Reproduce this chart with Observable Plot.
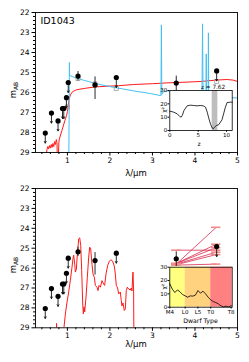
<!DOCTYPE html>
<html><head><meta charset="utf-8">
<script src="https://cdn.jsdelivr.net/npm/d3@7"></script>
<script src="https://cdn.jsdelivr.net/npm/@observablehq/plot@0.6"></script>
<style>
body{margin:0;background:#fff;}
#wrap{position:relative;width:249px;height:362px;font-family:"DejaVu Sans",sans-serif;}
#wrap svg{position:absolute;overflow:visible;}
</style></head><body><div id="wrap"></div>
<script>
// ---------- photometry ----------
const photLam   = [0.48, 0.625, 0.78, 0.885, 0.915, 0.977, 1.02, 1.25, 1.65, 2.15, 3.56, 4.51];
const photMag   = [28.03, 27.03, 27.42, 26.8, 26.8, 26.26, 25.5, 25.18, 25.62, 25.25, 25.53, 24.92];
const photUpper = [1, 1, 1, 1, 1, 1, 1, 0, 0, 1, 0, 1];
const photErrBright = [null, null, null, null, null, null, null, 24.95, 25.22, null, 25.18, null];
const photErrFaint  = [null, null, null, null, null, null, null, 25.42, 26.35, null, 25.92, null];
// model photometry (grey squares, top panel)
const modelLam = [1.0, 1.25, 1.65, 2.15, 3.56, 4.51];
const modelMag = [26.72, 25.3, 25.57, 25.8, 26.0, 25.45];

// ---------- top panel SEDs ----------
const topRedLam = [0.50,0.52,0.54,0.56,0.58,0.60,0.62,0.64,0.66,0.68,0.70,0.72,0.74,0.755,0.765,0.78,0.80,0.81,0.87,0.94,0.98,1.0,1.04,1.07,1.12,1.22,1.42,1.66,1.9,2.2,2.56,3.0,3.34,3.7,4.12,4.5,4.75,4.9,5.0];
const topRedMag = [29.2,28.85,28.7,28.82,28.65,28.78,28.6,28.75,28.55,28.7,28.45,28.6,28.35,28.5,29.5,29.5,28.5,28.33,27.91,27.41,27.16,26.95,26.35,26.12,25.96,25.86,25.79,25.72,25.69,25.66,25.6,25.56,25.52,25.49,25.45,25.38,25.35,25.38,25.45];
const topBlueLam = [1.03,1.047,1.052,1.11,1.2,1.23,1.3,1.4,1.5,1.66,1.81,1.97,2.13,2.3,2.56,2.8,2.95,3.18,3.2,3.21,3.22,3.25,3.34,3.5,3.8,4.1,4.165,4.178,4.19,4.2,4.258,4.265,4.272,4.31,4.316,4.322,4.4,4.7,5.0];
const topBlueMag = [31,24.5,25.15,25.2,25.27,25.3,25.33,25.4,25.45,25.55,25.62,25.69,25.76,25.82,25.92,26.0,26.05,26.15,26.15,22.62,26.1,25.98,25.92,25.95,26.0,26.05,26.05,22.57,26.05,26.08,26.1,24.07,26.1,26.1,23.02,26.1,26.15,26.22,26.28];

// ---------- bottom panel brown-dwarf spectrum ----------
const botRedLam = [0.74,0.745,0.755,0.9,0.914,0.953,0.992,1.031,1.070,1.109,1.133,1.148,1.172,1.188,1.211,1.235,1.266,1.290,1.313,1.336,1.360,1.375,1.391,1.407,1.438,1.469,1.501,1.524,1.548,1.579,1.602,1.634,1.657,1.696,1.720,1.743,1.775,1.814,1.853,1.876,1.908,1.947,1.986,2.025,2.064,2.103,2.127,2.150,2.181,2.205,2.244,2.267,2.283,2.307,2.338,2.362,2.385,2.409,2.440,2.479,2.503,2.518,2.542,2.557,2.565];
const botRedMag = [29.6,28.78,29.6,29.6,29.1,28.3,27.7,27.2,26.6,25.95,25.5,25.35,25.8,26.2,26.05,25.28,24.53,24.48,24.86,26.12,27.8,28.3,27.95,28.2,27.46,26.46,25.45,24.95,25.03,25.82,26.29,26.46,26.87,26.96,27.13,26.87,26.96,26.63,26.8,26.87,26.29,25.87,25.65,25.58,25.65,25.9,26.3,26.87,27.0,27.3,27.2,27.63,27.9,27.75,28.13,28.05,27.13,26.96,27.05,27.1,27.0,27.15,26.2,27.1,29.8];
// template photometry at 3.6 / 4.5 um
const fanLamLeft = 3.56, fanLamRight = 4.5;
const fanMagLeft  = [25.8, 25.1, 25.77, 25.77, 25.8, 25.83, 25.85];
const fanMagRight = [23.95, 25.1, 24.8, 24.97, 25.2, 25.32, 25.8];

// ---------- insets ----------
const chiZ    = [0,0.7,1.3,1.76,2.0,2.2,2.5,3.06,3.6,4.2,4.8,5.4,5.9,6.3,6.6,6.9,7.2,7.5,7.65,7.9,8.2,8.6,9.2,9.8,10.1,10.7,11.0];
const chiZVal = [14.5,13.75,12.5,10.5,10,11.25,15,18.5,19,18.75,18.5,18.75,18.5,17.5,13.75,8.75,4.5,1.75,1.25,2.5,3.75,4.25,8,17.5,21,21.25,21.25];
const zBand = [7.47, 8.47];
const zBest = 7.62;
const chiType    = [0,1,2,3,4,5,6,7,8,9,10,11,12,13,14,15,16,17,18,19,20,21,22,23,24];
const chiTypeVal = [17.5,13.5,11,13,11.5,9.5,8.5,7.5,8.5,8.3,9,12.5,10.5,12,10,7.5,5.5,4.2,3.5,2.5,1,0.3,0.8,0.2,1.2];
const typeTicks  = [0, 6, 11, 16, 24];
const typeLabels = ["M4", "L0", "L5", "T0", "T8"];
const typeBandStart = [0, 6, 16];
const typeBandEnd   = [6, 16, 24.4];
const typeBandColor = ["#ffff80", "#ffd280", "#ff8080"];

// ---------- build tables ----------
const phot = photLam.map((l, i) => ({lam: l, mag: photMag[i], up: photUpper[i], eb: photErrBright[i], ef: photErrFaint[i]}));
const uppers = phot.filter(d => d.up);
const dets = phot.filter(d => !d.up);
const model = modelLam.map((l, i) => ({lam: l, mag: modelMag[i]}));
const topRed = topRedLam.map((l, i) => ({lam: l, mag: topRedMag[i]}));
const topBlue = topBlueLam.map((l, i) => ({lam: l, mag: topBlueMag[i]}));
const botRed = botRedLam.map((l, i) => ({lam: l, mag: botRedMag[i]}));
const fan = fanMagLeft.map((m, i) => ({l1: fanLamLeft, m1: m, l2: fanLamRight, m2: fanMagRight[i]}));
const fanCaps = fan.flatMap(d => [{lam: d.l1, mag: d.m1}, {lam: d.l2, mag: d.m2}]);
const chiZData = chiZ.map((z, i) => ({z, c: chiZVal[i]}));
const chiTData = chiType.map((t, i) => ({t, c: chiTypeVal[i]}));
const tBands = typeBandStart.map((s, i) => ({s, e: typeBandEnd[i], color: typeBandColor[i]}));

const xMajor = [1, 2, 3, 4, 5];
const xMinor = d3.range(2, 26).map(k => k * 0.2).filter(v => Math.abs(v - Math.round(v)) > 1e-6);
const yMajor = [22, 23, 24, 25, 26, 27, 28, 29];
const yMinor = d3.range(110, 146).map(k => k * 0.2).filter(v => Math.abs(v - Math.round(v)) > 1e-6);

const FONT = "DejaVu Sans";
const wrap = document.getElementById("wrap");

function photMarks() {
  return [
    Plot.ruleX(dets, {x: "lam", y1: "eb", y2: "ef", stroke: "#111", strokeWidth: 0.9}),
    Plot.arrow(uppers, {x1: "lam", y1: "mag", x2: "lam", y2: d => d.mag + 0.5, stroke: "#111", strokeWidth: 0.9, headLength: 3, headAngle: 60}),
    Plot.dot(phot, {x: "lam", y: "mag", r: 2.6, fill: "black"})
  ];
}

function mainPlot(height, mt, mb, marks) {
  return Plot.plot({
    width: 249, height, marginLeft: 35, marginRight: 12, marginTop: mt, marginBottom: mb,
    style: {background: "transparent", fontFamily: FONT, fontSize: "7.5px", color: "black"},
    x: {domain: [0.25, 5], label: null},
    y: {domain: [29, 22], label: null},
    marks: [
      ...marks,
      Plot.frame({stroke: "black", strokeWidth: 0.9}),
      Plot.axisX({ticks: xMajor, tickSize: 3.5, tickPadding: 1.5, tickFormat: d3.format("d"), label: null}),
      Plot.axisX({ticks: xMinor, tickSize: 2, tickFormat: () => "", label: null}),
      Plot.axisY({ticks: yMajor, tickSize: 3.5, tickPadding: 2.5, tickFormat: d3.format("d"), label: null}),
      Plot.axisY({ticks: yMinor, tickSize: 2, tickFormat: () => "", label: null})
    ]
  });
}

function addLabels(svg, labelY, yCenter) {
  const s = d3.select(svg);
  s.append("text").attr("x", 136).attr("y", labelY).attr("text-anchor", "middle")
    .attr("font-family", FONT).attr("font-size", 8.5).attr("fill", "black").text("λ/μm");
  const t = s.append("text").attr("transform", `translate(15.5,${yCenter}) rotate(-90)`)
    .attr("text-anchor", "middle").attr("font-family", FONT).attr("font-size", 8.5).attr("fill", "black");
  t.append("tspan").text("m");
  t.append("tspan").attr("font-size", 6).attr("dy", 2).text("AB");
}

function place(svg, left, topPx) {
  svg.style.left = left + "px";
  svg.style.top = topPx + "px";
  wrap.appendChild(svg);
}

// ---------- top main ----------
const topSvg = mainPlot(180, 12, 28, [
  Plot.line(topRed, {x: "lam", y: "mag", stroke: "#ff1a1a", strokeWidth: 1, clip: true}),
  Plot.line(topBlue, {x: "lam", y: "mag", stroke: "#45bff0", strokeWidth: 1, clip: true}),
  Plot.dot(model, {x: "lam", y: "mag", symbol: "square", r: 2.3, stroke: "#9a9a9a", fill: "none", strokeWidth: 0.8}),
  ...photMarks(),
  Plot.text(["ID1043"], {text: d => d, frameAnchor: "top-left", dx: 5, dy: 4.5, textAnchor: "start", lineAnchor: "top", fontSize: 9.5})
]);
addLabels(topSvg, 176, 90);
place(topSvg, 0, 0);

// ---------- bottom main ----------
const botSvg = mainPlot(182, 8, 34.7, [
  Plot.line(botRed, {x: "lam", y: "mag", stroke: "#ff1a1a", strokeWidth: 1, clip: true}),
  Plot.link(fan, {x1: "l1", y1: "m1", x2: "l2", y2: "m2", stroke: "#d4163c", strokeWidth: 0.8, strokeOpacity: 0.9}),
  Plot.ruleY(fanCaps, {y: "mag", x1: d => d.lam - 0.11, x2: d => d.lam + 0.11, stroke: "#f28a8a", strokeWidth: 1.6}),
  ...photMarks()
]);
addLabels(botSvg, 167, 85);
place(botSvg, 0, 180);

// ---------- inset 1 (chi2 vs z) ----------
const ins1 = Plot.plot({
  width: 90, height: 70, marginLeft: 19.3, marginRight: 8.3, marginTop: 12, marginBottom: 18,
  style: {background: "transparent", fontFamily: FONT, fontSize: "5.5px", color: "black"},
  x: {domain: [0, 11], label: null}, y: {domain: [0, 30], label: null},
  marks: [
    Plot.frame({fill: "white"}),
    Plot.rect([{a: zBand[0], b: zBand[1]}], {x1: "a", x2: "b", y1: () => 0, y2: () => 30, fill: "#bdbdbd"}),
    Plot.line(chiZData, {x: "z", y: "c", stroke: "black", strokeWidth: 0.8}),
    Plot.frame({stroke: "black", strokeWidth: 0.8}),
    Plot.axisX({ticks: [0, 5, 10], tickSize: 1.8, tickPadding: 0.8, label: null}),
    Plot.axisY({ticks: [0, 10, 20, 30], tickSize: 1.8, tickPadding: 0.8, label: null}),
    Plot.text([{z: zBest}], {x: "z", text: d => `z = ${d.z}`, frameAnchor: "top", dy: -1.5, lineAnchor: "bottom", fontSize: 5.7})
  ]
});
d3.select(ins1).append("text").attr("x", 49.2).attr("y", 67.5).attr("text-anchor", "middle")
  .attr("font-family", FONT).attr("font-size", 6).text("z");
d3.select(ins1).append("text").attr("transform", "translate(15.8,32) rotate(-90)").attr("text-anchor", "middle")
  .attr("font-family", FONT).attr("font-size", 5.8).text("χ²");
place(ins1, 150, 78);

// ---------- inset 2 (chi2 vs dwarf type) ----------
const ins2 = Plot.plot({
  width: 90, height: 75, marginLeft: 19.3, marginRight: 8.3, marginTop: 11.7, marginBottom: 23.3,
  style: {background: "transparent", fontFamily: FONT, fontSize: "5.5px", color: "black"},
  x: {domain: [0, 24.4], label: null}, y: {domain: [0, 30], label: null},
  marks: [
    Plot.rect(tBands, {x1: "s", x2: "e", y1: () => 0, y2: () => 30, fill: "color"}),
    Plot.line(chiTData, {x: "t", y: "c", stroke: "black", strokeWidth: 0.8}),
    Plot.frame({stroke: "black", strokeWidth: 0.8}),
    Plot.axisX({ticks: typeTicks, tickSize: 1.8, tickPadding: 0.8, tickFormat: d => typeLabels[typeTicks.indexOf(d)], label: null}),
    Plot.axisY({ticks: [0, 10, 20, 30], tickSize: 1.8, tickPadding: 0.8, label: null})
  ]
});
d3.select(ins2).append("text").attr("x", 50.5).attr("y", 68.3).attr("text-anchor", "middle")
  .attr("font-family", FONT).attr("font-size", 6.2).text("Dwarf Type");
d3.select(ins2).append("text").attr("transform", "translate(15.8,31.7) rotate(-90)").attr("text-anchor", "middle")
  .attr("font-family", FONT).attr("font-size", 5.8).text("χ²");
place(ins2, 150, 255);
</script></body></html>
